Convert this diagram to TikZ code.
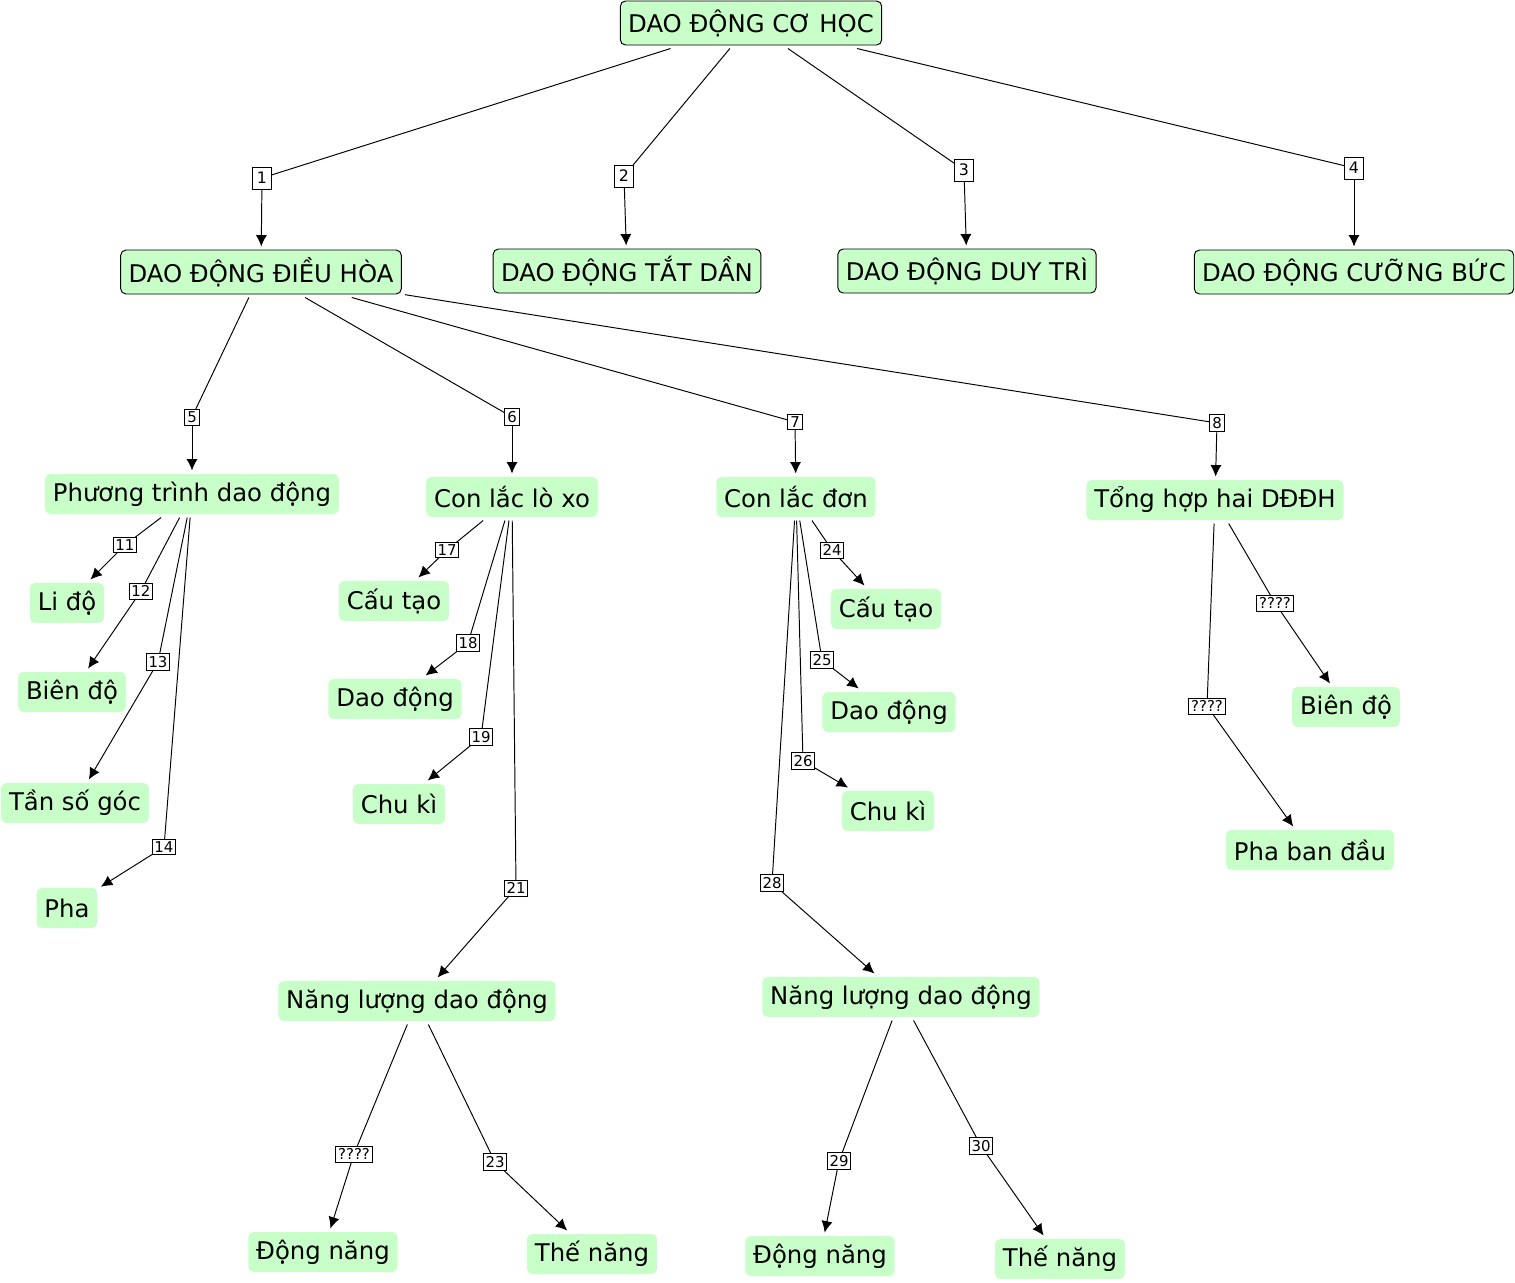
\documentclass[tikz,border=0pt]{standalone}
\usepackage{fontspec}
\setmainfont{DejaVu Sans}
\usepackage{tikz}
\usepackage{xcolor}
\usetikzlibrary{arrows.meta}
\definecolor{ConceptGreen}{RGB}{200,255,200}

\begin{document}
\begin{tikzpicture}[x=0.02cm, y=-0.02cm, line width=0.55pt, >={Latex[length=6.5pt,width=6.3pt]},
  concept/.style={fill=ConceptGreen, rounded corners=3pt, inner xsep=4.5pt, minimum height=0.8cm, outer sep=2pt, font=\fontsize{13.85}{16}\selectfont},
  topconcept/.style={concept, draw=black, minimum height=0.88cm},
  link/.style={draw, fill=white, inner sep=1.4pt, outer sep=0pt, font=\fontsize{8.5}{9}\selectfont},
  toplink/.style={link, minimum width=0.37cm, minimum height=0.44cm, font=\fontsize{9}{10}\selectfont}]
  \useasboundingbox (0,0) rectangle (1515,1282);

  % top level
  \node[topconcept] (top) at (751,23) {DAO ĐỘNG CƠ HỌC};
  \node[topconcept] (ddh) at (261,272) {DAO ĐỘNG ĐIỀU HÒA};
  \node[topconcept] (tatdan) at (627,271) {DAO ĐỘNG TẮT DẦN};
  \node[topconcept] (duytri) at (967,271) {DAO ĐỘNG DUY TRÌ};
  \node[topconcept] (cuongbuc) at (1354,272) {DAO ĐỘNG CƯỠNG BỨC};

  \node[toplink] (l1) at (262,178) {1};
  \node[toplink] (l2) at (624,176) {2};
  \node[toplink] (l3) at (964,170) {3};
  \node[toplink] (l4) at (1354,168) {4};

  % dao dong dieu hoa
  \node[concept] (ptdd) at (192,494) {Phương trình dao động};
  \node[concept] (clx) at (512,497) {Con lắc lò xo};
  \node[concept] (cld) at (796,497) {Con lắc đơn};
  \node[concept] (tonghop) at (1215,500) {Tổng hợp hai DĐĐH};

  \node[link] (l5) at (192,417) {5};
  \node[link] (l6) at (512,417) {6};
  \node[link] (l7) at (795,422) {7};
  \node[link] (l8) at (1217,423) {8};

  % phuong trinh dao dong
  \node[concept] (lido) at (67,603) {Li độ};
  \node[concept] (biendo) at (72,692) {Biên độ};
  \node[concept] (tanso) at (75,803) {Tần số góc};
  \node[concept] (pha) at (67,908) {Pha};

  \node[link] (l11) at (125,545) {11};
  \node[link] (l12) at (141,591) {12};
  \node[link] (l13) at (158,662) {13};
  \node[link] (l14) at (164,847) {14};

  % con lac lo xo
  \node[concept] (cautaoA) at (394,601) {Cấu tạo};
  \node[concept] (daodongA) at (395,699) {Dao động};
  \node[concept] (chukiA) at (399,804) {Chu kì};
  \node[concept] (nangluongA) at (417,1001) {Năng lượng dao động};
  \node[concept] (dongnangA) at (323,1252) {Động năng};
  \node[concept] (thenangA) at (592,1254) {Thế năng};

  \node[link] (l17) at (447,550) {17};
  \node[link] (l18) at (468,643) {18};
  \node[link] (l19) at (481,737) {19};
  \node[link] (l21) at (516,888) {21};
  \node[link] (lq1) at (354,1154) {????};
  \node[link] (l23) at (495,1162) {23};

  % con lac don
  \node[concept] (cautaoB) at (886,609) {Cấu tạo};
  \node[concept] (daodongB) at (889,712) {Dao động};
  \node[concept] (chukiB) at (888,811) {Chu kì};
  \node[concept] (nangluongB) at (901,997) {Năng lượng dao động};
  \node[concept] (dongnangB) at (820,1256) {Động năng};
  \node[concept] (thenangB) at (1060,1259) {Thế năng};

  \node[link] (l24) at (832,550) {24};
  \node[link] (l25) at (822,660) {25};
  \node[link] (l26) at (803,761) {26};
  \node[link] (l28) at (772,883) {28};
  \node[link] (l29) at (839,1161) {29};
  \node[link] (l30) at (981,1146) {30};

  % tong hop
  \node[concept] (biendoC) at (1346,707) {Biên độ};
  \node[concept] (phabandau) at (1310,850) {Pha ban đầu};

  \node[link] (lq2) at (1275,603) {????};
  \node[link] (lq3) at (1207,706) {????};

  % links
  \draw (top) -- (l1);  \draw[->] (l1) -- (ddh);
  \draw (top) -- (l2);  \draw[->] (l2) -- (tatdan);
  \draw (top) -- (l3);  \draw[->] (l3) -- (duytri);
  \draw (top) -- (l4);  \draw[->] (l4) -- (cuongbuc);

  \draw (ddh) -- (l5);  \draw[->] (l5) -- (ptdd);
  \draw (ddh) -- (l6);  \draw[->] (l6) -- (clx);
  \draw (ddh) -- (l7);  \draw[->] (l7) -- (cld);
  \draw (ddh) -- (l8);  \draw[->] (l8) -- (tonghop);

  \draw (ptdd) -- (l11);  \draw[->] (l11) -- (lido);
  \draw (ptdd) -- (l12);  \draw[->] (l12) -- (biendo);
  \draw (ptdd) -- (l13);  \draw[->] (l13) -- (tanso);
  \draw (ptdd) -- (l14);  \draw[->] (l14) -- (pha);

  \draw (clx) -- (l17);  \draw[->] (l17) -- (cautaoA);
  \draw (clx) -- (l18);  \draw[->] (l18) -- (daodongA);
  \draw (clx) -- (l19);  \draw[->] (l19) -- (chukiA);
  \draw (clx) -- (l21);  \draw[->] (l21) -- (nangluongA);
  \draw (nangluongA) -- (lq1);  \draw[->] (lq1) -- (dongnangA);
  \draw (nangluongA) -- (l23);  \draw[->] (l23) -- (thenangA);

  \draw (cld) -- (l24);  \draw[->] (l24) -- (cautaoB);
  \draw (cld) -- (l25);  \draw[->] (l25) -- (daodongB);
  \draw (cld) -- (l26);  \draw[->] (l26) -- (chukiB);
  \draw (cld) -- (l28);  \draw[->] (l28) -- (nangluongB);
  \draw (nangluongB) -- (l29);  \draw[->] (l29) -- (dongnangB);
  \draw (nangluongB) -- (l30);  \draw[->] (l30) -- (thenangB);

  \draw (tonghop) -- (lq2);  \draw[->] (lq2) -- (biendoC);
  \draw (tonghop) -- (lq3);  \draw[->] (lq3) -- (phabandau);
\end{tikzpicture}
\end{document}
